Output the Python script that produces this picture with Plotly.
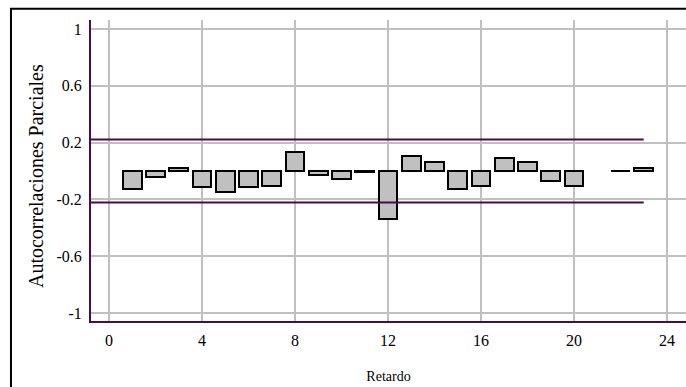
import plotly.graph_objects as go

# Partial autocorrelation function by lag
lags = list(range(1, 24))
pacf = [-0.127, -0.044, 0.021, -0.115, -0.145, -0.115, -0.103, 0.134,
        -0.030, -0.056, -0.010, -0.338, 0.103, 0.061, -0.127, -0.103,
        0.089, 0.061, -0.073, -0.103, None, 0.003, 0.021]

# 95% confidence limits
conf_limit = 0.222
limit_x = [-0.774, 23]

x_ticks = [0, 4, 8, 12, 16, 20, 24]
y_ticks = [-1, -0.6, -0.2, 0.2, 0.6, 1]
y_tick_text = ["-1", "-0.6", "-0.2", "0.2", "0.6", "1"]

axis_color = "#480c48"
grid_color = "#c0c0c0"
font_family = "Liberation Serif"

fig = go.Figure()

fig.add_trace(go.Bar(
    x=lags, y=pacf, width=0.8,
    marker=dict(color="#c0c0c0", line=dict(color="black", width=2)),
    hoverinfo="x+y", showlegend=False,
))

for sign in (1, -1):
    fig.add_trace(go.Scatter(
        x=limit_x, y=[sign * conf_limit] * 2, mode="lines",
        line=dict(color=axis_color, width=2),
        hoverinfo="skip", showlegend=False,
    ))

# Outer frame around the chart
fig.add_shape(type="rect", xref="paper", yref="paper",
              x0=-0.1345, x1=1.2, y0=-0.5, y1=1.037,
              line=dict(color="black", width=2), fillcolor="rgba(0,0,0,0)",
              layer="below")

# Vertical axis title
fig.add_annotation(
    text="Autocorrelaciones Parciales", textangle=-90,
    xref="paper", yref="paper", x=-0.0924, y=0.4817,
    xanchor="center", yanchor="middle", showarrow=False,
    font=dict(family=font_family, size=20, color="black"),
)

fig.update_layout(
    width=686, height=387,
    margin=dict(l=91, r=0, t=20, b=66),
    paper_bgcolor="white", plot_bgcolor="white",
    font=dict(family=font_family, size=16, color="black"),
    bargap=0,
    xaxis=dict(
        range=[-0.774, 24.82], tickvals=x_ticks,
        showgrid=True, gridcolor=grid_color, gridwidth=2,
        showline=True, linecolor=axis_color, linewidth=2,
        zeroline=False, ticks="", ticklabelstandoff=4,
        title=dict(text="Retardo", font=dict(size=14), standoff=23),
        tickfont=dict(size=16),
    ),
    yaxis=dict(
        range=[-1.055, 1.063], tickvals=y_ticks, ticktext=y_tick_text,
        showgrid=True, gridcolor=grid_color, gridwidth=2,
        showline=True, linecolor=axis_color, linewidth=2,
        zeroline=False, ticks="", ticklabelstandoff=4,
        tickfont=dict(size=16),
    ),
)

fig.write_html("out.html")
